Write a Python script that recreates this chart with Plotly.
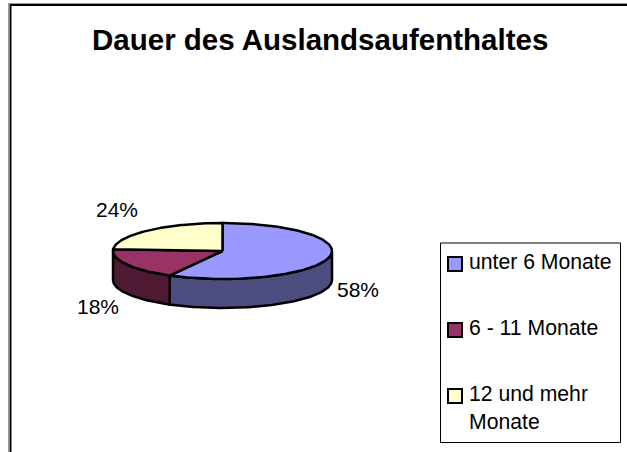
import math
import plotly.graph_objects as go

title = "Dauer des Auslandsaufenthaltes"
categories = ["unter 6 Monate", "6 - 11 Monate", "12 und mehr<br>Monate"]
values = [58, 18, 24]
top_colors = ["#9999FF", "#993366", "#FFFFCC"]
side_colors = ["#4D4D80", "#4D1933", "#808066"]

W, H = 627, 452
CX, CY, RX, RY, DEPTH = 222.5, 251, 109.5, 28, 29
FONT = "Liberation Sans"


def pt(deg, dy=0):
    a = math.radians(deg)
    return CX + RX * math.sin(a), CY - RY * math.cos(a) + dy


def arc(a0, a1, dy=0):
    n = max(2, int(abs(a1 - a0)) + 1)
    return [pt(a0 + (a1 - a0) * i / (n - 1), dy) for i in range(n)]


def add_poly(fig, pts, fill):
    fig.add_trace(go.Scatter(
        x=[p[0] for p in pts], y=[p[1] for p in pts], mode="lines",
        fill="toself", fillcolor=fill, line=dict(color="black", width=2.5),
        hoverinfo="skip", showlegend=False))


fig = go.Figure()
total = sum(values)
angles = [0]
for v in values:
    angles.append(angles[-1] + 360 * v / total)

# rim (front half only)
for i in range(len(values)):
    a0, a1 = max(angles[i], 90), min(angles[i + 1], 270)
    if a1 > a0:
        add_poly(fig, arc(a0, a1) + arc(a1, a0, DEPTH) + [pt(a0)], side_colors[i])

# top face
for i in range(len(values)):
    add_poly(fig, [(CX, CY)] + arc(angles[i], angles[i + 1]) + [(CX, CY)], top_colors[i])

annotations = [
    dict(x=320, y=39, text=f"<b>{title}</b>", font=dict(size=29.5, family=FONT, color="black")),
    dict(x=358, y=289, text=f"{values[0]}%", font=dict(size=21, family=FONT, color="black")),
    dict(x=98, y=306, text=f"{values[1]}%", font=dict(size=21, family=FONT, color="black")),
    dict(x=117, y=209, text=f"{values[2]}%", font=dict(size=21, family=FONT, color="black")),
]
for a in annotations:
    a.update(xref="x", yref="y", showarrow=False)

# legend
swatch_y = [264, 330, 396]
label_y = [261, 327, 407]
fig.add_trace(go.Scatter(
    x=[455] * 3, y=swatch_y, mode="markers",
    marker=dict(symbol="square", size=14, color=top_colors[:3], line=dict(color="black", width=2)),
    hoverinfo="skip", showlegend=False))
for name, y in zip(categories, label_y):
    annotations.append(dict(x=467, y=y, xref="x", yref="y", text=name, showarrow=False,
                            xanchor="left", align="left",
                            font=dict(size=21.2, family=FONT, color="black")))

shapes = [
    dict(type="rect", xref="x", yref="y", x0=8.5, y0=3.5, x1=700, y1=700,
         line=dict(color="#999999", width=1), layer="below"),
    dict(type="rect", xref="x", yref="y", x0=10.5, y0=5, x1=700, y1=700,
         line=dict(color="black", width=2), layer="below"),
    dict(type="rect", xref="x", yref="y", x0=440.5, y0=243, x1=620.5, y1=442.5,
         line=dict(color="black", width=1), fillcolor="white", layer="below"),
]

fig.update_layout(
    width=W, height=H, margin=dict(l=0, r=0, t=0, b=0),
    paper_bgcolor="white", plot_bgcolor="white", showlegend=False,
    xaxis=dict(range=[0, W], visible=False, fixedrange=True),
    yaxis=dict(range=[H, 0], visible=False, fixedrange=True),
    annotations=annotations, shapes=shapes,
)
fig.write_html("out.html", config={"displayModeBar": False},
               post_script="document.body.style.margin='0';document.body.style.overflow='hidden';")
